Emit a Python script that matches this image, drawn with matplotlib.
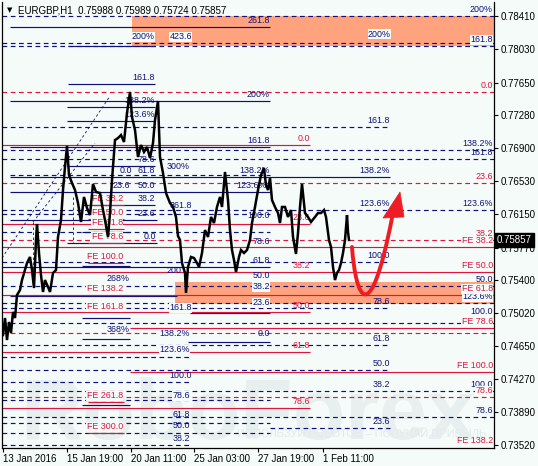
import matplotlib
matplotlib.use('Agg')
import matplotlib.pyplot as plt
from matplotlib.path import Path
from matplotlib.patches import PathPatch, Polygon, Rectangle
import matplotlib.transforms as mtransforms

plt.rcParams['font.family'] = ['Liberation Sans', 'DejaVu Sans']

bg = '#f4fbf8'
navy = '#10107a'
red = '#e0143c'

# EURGBP H1 closes, x = bar position
bar_x = [3, 5, 7, 9, 11, 13, 15, 17, 20, 22, 25, 27, 30, 32, 34, 36, 37, 39, 41, 43,
         45, 48, 50, 53, 56, 58, 61, 63, 65, 67, 69, 72, 75, 78, 81, 84, 87, 90, 93, 96,
         100, 103, 105, 108, 110, 112, 115, 118, 121, 124, 127, 130, 132, 135, 138, 141,
         144, 147, 150, 153, 155, 158, 160, 163, 166, 170, 173, 176, 178, 180, 182, 185,
         186, 188, 191, 194, 197, 199, 202, 205, 208, 211, 214, 217, 220, 222, 225, 228,
         230, 232, 234, 236, 239, 241, 244, 247, 250, 252, 255, 258, 261, 264, 266, 268,
         270, 272, 275, 278, 280, 282, 285, 288, 291, 293, 296, 298, 300, 302, 305, 308,
         311, 315, 318, 321, 324, 326, 329, 331, 333, 335, 337, 339, 341, 343, 345, 347,
         348, 349]
close = [0.74773, 0.74967, 0.74716, 0.74922, 0.74796, 0.75036, 0.74967, 0.75229, 0.75286,
         0.75400, 0.75514, 0.75594, 0.75663, 0.75514, 0.75309, 0.75856, 0.76039, 0.75708,
         0.75457, 0.75264, 0.75400, 0.75321, 0.75264, 0.75480, 0.75514, 0.75891, 0.76084,
         0.76426, 0.76689, 0.76928, 0.76597, 0.76506, 0.76426, 0.76278, 0.76062, 0.76347,
         0.76221, 0.76141, 0.76495, 0.76404, 0.76392, 0.76198, 0.76084, 0.75891, 0.76164,
         0.76540, 0.76996, 0.77019, 0.77053, 0.76974, 0.77304, 0.77544, 0.77259, 0.77110,
         0.76803, 0.76939, 0.76860, 0.76917, 0.76791, 0.76962, 0.77224, 0.77441, 0.76803,
         0.76620, 0.76392, 0.76278, 0.76233, 0.76119, 0.75902, 0.75856, 0.75594, 0.75480,
         0.75252, 0.75549, 0.75663, 0.75651, 0.75594, 0.75549, 0.75708, 0.75970, 0.75891,
         0.76119, 0.76050, 0.76233, 0.76347, 0.76233, 0.76632, 0.76312, 0.75970, 0.75742,
         0.75628, 0.75492, 0.75663, 0.75742, 0.75708, 0.75742, 0.75856, 0.76050, 0.76233,
         0.76426, 0.76597, 0.76677, 0.76483, 0.76426, 0.76563, 0.76312, 0.76233, 0.76164,
         0.76050, 0.76233, 0.76233, 0.76119, 0.76198, 0.75891, 0.75697, 0.75936, 0.76233,
         0.76495, 0.76164, 0.76119, 0.76062, 0.76119, 0.76164, 0.76164, 0.76198, 0.76119,
         0.75856, 0.75777, 0.75549, 0.75400, 0.75480, 0.75514, 0.75594, 0.75708, 0.75856,
         0.76141, 0.75948, 0.75857]

price_ticks = [0.78410, 0.78030, 0.77650, 0.77280, 0.76900, 0.76530, 0.76150, 0.75770,
               0.75400, 0.75020, 0.74650, 0.74270, 0.73890, 0.73520]
date_pos = [3, 67, 131, 194, 258, 323]
date_labels = ['13 Jan 2016', '15 Jan 19:00', '20 Jan 11:00', '25 Jan 03:00',
               '27 Jan 19:00', '1 Feb 11:00']
last_price = 0.75857

# fibo levels: (price, from bar, to bar)
navy_dashed = [(0.78410, 2, 494), (0.78102, 2, 494), (0.78068, 2, 494), (0.77145, 2, 390),
               (0.76882, 2, 494), (0.76780, 2, 494), (0.76597, 10, 270), (0.76198, 2, 494),
               (0.76153, 2, 270), (0.75948, 2, 270), (0.75606, 2, 390), (0.75332, 2, 494),
               (0.75138, 2, 494), (0.75081, 2, 390), (0.74910, 2, 494), (0.74659, 2, 390),
               (0.74523, 2, 190), (0.74374, 2, 390), (0.74238, 2, 190), (0.74135, 2, 494),
               (0.74032, 2, 270), (0.73839, 2, 494), (0.73770, 2, 270), (0.73713, 270, 390),
               (0.73656, 2, 270), (0.73519, 2, 190)]
navy_solid = [(0.78285, 10, 270), (0.78068, 68, 155), (0.77635, 68, 155), (0.77441, 10, 270),
              (0.77373, 67, 155), (0.77213, 67, 155), (0.76917, 10, 270), (0.76700, 67, 155),
              (0.76575, 10, 390), (0.76404, 10, 270), (0.76255, 82, 155), (0.76084, 10, 157),
              (0.75948, 82, 130), (0.75822, 67, 157), (0.75560, 82, 130), (0.75549, 2, 270),
              (0.75218, 10, 177), (0.75024, 190, 270), (0.74967, 82, 130), (0.74728, 82, 130),
              (0.74694, 188, 270), (0.73975, 82, 130)]
red_solid = [(0.76939, 2, 310), (0.76039, 2, 310), (0.75777, 2, 494), (0.75492, 2, 494),
             (0.75229, 2, 494), (0.75036, 2, 310), (0.74853, 130, 494), (0.74580, 2, 310),
             (0.74352, 130, 494), (0.73941, 2, 310), (0.76255, 88, 124), (0.76096, 88, 124),
             (0.75982, 88, 124), (0.75822, 88, 124), (0.75594, 88, 124), (0.74010, 88, 124),
             (0.73656, 88, 124)]
red_dashed = [(0.77544, 2, 494), (0.76506, 2, 494), (0.75856, 2, 494), (0.74796, 2, 494),
              (0.74067, 2, 494)]

# zones: (from bar, to bar, low, high)
zones = [(132, 494, 0.78068, 0.78410), (175, 494, 0.75127, 0.75378)]

# level texts: (text, right end bar, price, boxed)
navy_text = [('200%', 493, 0.78410, 0), ('261.8', 270, 0.78285, 0), ('200%', 155, 0.78102, 1),
             ('423.6', 192, 0.78102, 1), ('200%', 391, 0.78130, 1), ('161.8', 493, 0.78068, 1),
             ('161.8', 155, 0.77635, 0), ('200%', 270, 0.77441, 0), ('138.2%', 155, 0.77373, 0),
             ('123.6%', 155, 0.77213, 0), ('161.8', 390, 0.77145, 0), ('161.8', 270, 0.76917, 0),
             ('138.2%', 493, 0.76882, 0), ('161.8', 493, 0.76780, 0), ('78.6', 155, 0.76700, 0),
             ('300%', 190, 0.76620, 0), ('0.0', 132, 0.76575, 0), ('61.8', 155, 0.76575, 0),
             ('138.2%', 270, 0.76575, 0), ('138.2%', 390, 0.76575, 0), ('23.6', 130, 0.76404, 0),
             ('50.0', 155, 0.76404, 0), ('123.6%', 267, 0.76404, 0), ('38.2', 155, 0.76255, 0),
             ('123.6%', 390, 0.76198, 0), ('123.6%', 493, 0.76198, 0), ('361.8', 192, 0.76176, 0),
             ('23.6', 155, 0.76084, 0), ('100.0', 270, 0.76062, 0), ('0.0', 156, 0.75822, 0),
             ('78.6', 270, 0.75765, 0), ('100.0', 390, 0.75606, 0), ('61.8', 270, 0.75549, 0),
             ('50.0', 270, 0.75378, 0), ('268%', 130, 0.75343, 0), ('200', 182, 0.75435, 0),
             ('50.0', 493, 0.75332, 0), ('38.2', 270, 0.75252, 1), ('123.6%', 493, 0.75138, 1),
             ('23.6', 270, 0.75070, 1), ('78.6', 390, 0.75081, 0), ('161.8', 192, 0.75013, 1),
             ('100.0', 493, 0.74967, 0), ('368%', 130, 0.74762, 0), ('138.2%', 190, 0.74717, 1),
             ('0.0', 270, 0.74717, 0), ('61.8', 390, 0.74659, 0), ('123.6%', 190, 0.74534, 1),
             ('50.0', 390, 0.74374, 0), ('100.0', 192, 0.74238, 0), ('38.2', 390, 0.74135, 0),
             ('100.0', 493, 0.74135, 0), ('78.6', 190, 0.74010, 1), ('78.6', 493, 0.73839, 0),
             ('61.8', 190, 0.73793, 0), ('23.6', 390, 0.73713, 0), ('50.0', 190, 0.73668, 0),
             ('38.2', 190, 0.73519, 0)]
red_text = [('0.0', 493, 0.77544, 0), ('0.0', 310, 0.76939, 0), ('23.6', 493, 0.76506, 0),
            ('FE 38.2', 123, 0.76255, 1), ('FE 50.0', 123, 0.76096, 1), ('23.6', 310, 0.76039, 0),
            ('FE 61.8', 123, 0.75982, 1), ('38.2', 493, 0.75856, 0), ('FE 78.6', 123, 0.75822, 1),
            ('FE 38.2', 493, 0.75777, 1), ('FE 100.0', 123, 0.75594, 1), ('38.2', 310, 0.75492, 0),
            ('FE 50.0', 493, 0.75492, 0), ('FE 138.2', 123, 0.75229, 1), ('FE 61.8', 493, 0.75229, 1),
            ('50.0', 310, 0.75036, 0), ('FE 161.8', 123, 0.75024, 1), ('FE 78.6', 493, 0.74853, 1),
            ('61.8', 310, 0.74580, 0), ('FE 100.0', 493, 0.74352, 0), ('78.6', 493, 0.74067, 1),
            ('FE 261.8', 123, 0.74010, 1), ('78.6', 310, 0.73941, 0), ('FE 300.0', 123, 0.73656, 1),
            ('FE 138.2', 493, 0.73496, 0)]

# fibo tool trend lines: (x0, p0, x1, p1)
tool_lines = [(2, 0.75651, 110, 0.77498), (33, 0.76062, 95, 0.76962),
              (33, 0.76062, 33, 0.75321), (73, 0.76347, 73, 0.75822)]

# forecast arrow (bezier) and head
arrow_x = [352, 356, 370, 392]
arrow_p = [0.75777, 0.75172, 0.74830, 0.76107]
head_x = [383, 400, 404]
head_p = [0.76107, 0.76404, 0.76119]

fig = plt.figure(figsize=(5.38, 4.66), dpi=100, facecolor=bg)
ax = fig.add_axes([2 / 538, 18 / 466, 492 / 538, 446 / 466], facecolor=bg)
ax.set_xlim(2, 494)
ax.set_ylim(0.73485, 0.78570)

# watermark
ax.text(20, 0.73590, 'RoboForex', fontsize=62, fontweight='bold', color='#e8f0ef',
        zorder=0)
ax.text(237, 0.73611, 'ИСПОЛЬЗУЙ РОБОТОВ – ПОЛУЧАЙ ПРИБЫЛЬ', fontsize=8,
        color='#e2ebec', zorder=0.5)

for x0, x1, lo, hi in zones:
    ax.add_patch(Rectangle((x0, lo), x1 - x0, hi - lo, facecolor='#ffa37f',
                           edgecolor='none', zorder=1))

dash = (0, (4, 3))
for lst, col, ls in [(navy_dashed, navy, dash), (navy_solid, navy, '-'),
                     (red_dashed, red, dash), (red_solid, red, '-')]:
    ax.hlines([l[0] for l in lst], [l[1] for l in lst], [l[2] for l in lst],
              colors=col, linestyles=ls, lw=0.85, zorder=2)

for x0, p0, x1, p1 in tool_lines:
    ax.plot([x0, x1], [p0, p1], color=navy, lw=0.6, ls=(0, (3, 3)), zorder=2)

for lst, col in [(navy_text, navy), (red_text, red)]:
    for txt, x, p, boxed in lst:
        kw = {}
        if boxed:
            kw['bbox'] = dict(boxstyle='square,pad=0.05', fc=bg, ec='none')
        ax.annotate(txt, (x, p), xytext=(0, 1.2), textcoords='offset points',
                    ha='right', va='bottom', fontsize=6.4, color=col, zorder=3,
                    annotation_clip=False, **kw)

ax.plot(bar_x, close, color='black', lw=1.8, zorder=4, solid_joinstyle='miter')

# forecast arrow
path = Path(list(zip(arrow_x, arrow_p)), [Path.MOVETO, Path.CURVE4, Path.CURVE4, Path.CURVE4])
ax.add_patch(PathPatch(path, fc='none', ec='#ee1c24', lw=2.8, capstyle='round', zorder=5))
ax.add_patch(Polygon(list(zip(head_x, head_p)), closed=True, fc='#ee1c24', ec='#ee1c24',
                     lw=0.5, zorder=5))

# axes
for s in ['left', 'right', 'bottom']:
    ax.spines[s].set_color('black')
    ax.spines[s].set_linewidth(0.9)
ax.spines['top'].set_visible(False)
ax.yaxis.tick_right()
ax.set_yticks(price_ticks)
ax.set_yticklabels(['%.5f' % v for v in price_ticks])
ax.set_xticks(date_pos)
ax.set_xticklabels(date_labels)
for lbl in ax.get_xticklabels():
    lbl.set_horizontalalignment('left')
ax.tick_params(axis='both', labelsize=7, length=3, width=0.8, pad=1.5, colors='black')

trans = mtransforms.blended_transform_factory(ax.transAxes, ax.transData)
ax.text(1.006, last_price, '%.5f' % last_price, transform=trans, fontsize=7, color='white',
        va='center', ha='left', zorder=6,
        bbox=dict(boxstyle='square,pad=0.25', fc='black', ec='black'))

fig.text(7 / 538, 1 - 10.5 / 466, '▼', fontsize=5, va='center', family='DejaVu Sans')
fig.text(18 / 538, 1 - 10.5 / 466, 'EURGBP,H1  0.75988 0.75989 0.75724 0.75857',
         fontsize=7, va='center', color='black')

fig.savefig('out.png', dpi=100, facecolor=bg)
